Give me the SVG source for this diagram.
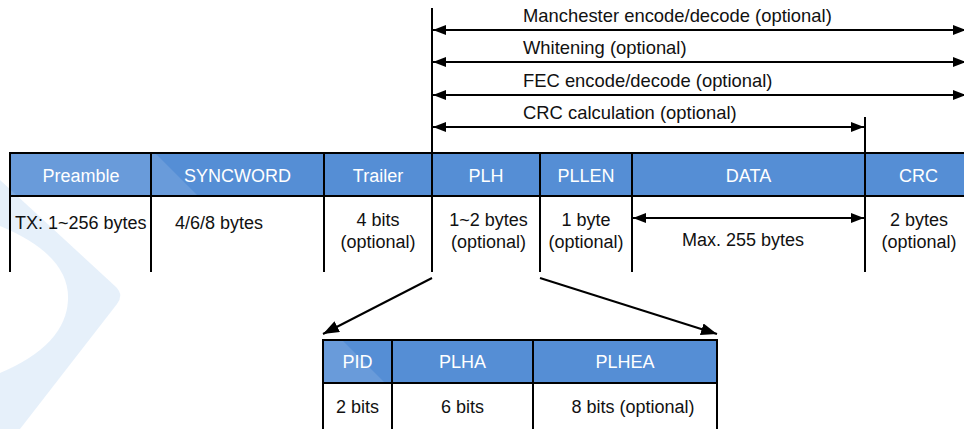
<svg xmlns="http://www.w3.org/2000/svg" width="964" height="429" viewBox="0 0 964 429">
<defs>
<style>
.hdr{fill:#558ed5}
.ln{stroke:#000;stroke-width:2;fill:none}
.ar{stroke:#000;stroke-width:2;fill:none}
.ht{font-family:"Liberation Sans",Arial,sans-serif;font-size:18px;fill:#fff;text-anchor:middle}
.bt{font-family:"Liberation Sans",Arial,sans-serif;font-size:18px;fill:#111;text-anchor:middle}
.lt{font-family:"Liberation Sans",Arial,sans-serif;font-size:18px;fill:#111}
.tl{font-family:"Liberation Sans",Arial,sans-serif;font-size:18.4px;fill:#111}
</style>
<marker id="ah" viewBox="0 0 13 10" refX="13" refY="5" markerWidth="13" markerHeight="10" markerUnits="userSpaceOnUse" orient="auto-start-reverse">
<path d="M0,0 L13,5 L0,10 Z" fill="#000"/>
</marker>
<marker id="ah2" viewBox="0 0 16 12" refX="16" refY="6" markerWidth="16" markerHeight="12" markerUnits="userSpaceOnUse" orient="auto">
<path d="M0,0 L16,6 L0,12 Z" fill="#000"/>
</marker>
</defs>
<rect width="964" height="429" fill="#fff"/>

<g id="frame-header">
<rect class="hdr" x="10" y="153" width="954" height="43"/>
<rect class="hdr" x="323" y="340" width="394" height="43"/>
</g>

<g id="watermark">
<polygon points="0,0 2,0 431,429 0,429" fill="#fff" opacity="0.12"/>
<path d="M0,180 L116,287 Q124,295 117,304 L20,429 L0,429 L0,373 Q66,345 68,300 Q70,255 0,226 Z" fill="#a3c7eb" opacity="0.27"/>
</g>

<g id="table-lines">
<line class="ln" x1="10" y1="153" x2="964" y2="153"/>
<line class="ln" x1="10" y1="196" x2="964" y2="196"/>
<line class="ln" x1="10" y1="152" x2="10" y2="272"/>
<line class="ln" x1="151" y1="152" x2="151" y2="272"/>
<line class="ln" x1="324" y1="152" x2="324" y2="272"/>
<line class="ln" x1="432" y1="8" x2="432" y2="272"/>
<line class="ln" x1="540" y1="152" x2="540" y2="272"/>
<line class="ln" x1="632" y1="152" x2="632" y2="272"/>
<line class="ln" x1="865" y1="117" x2="865" y2="272"/>
<line class="ln" x1="322" y1="340" x2="718" y2="340"/>
<line class="ln" x1="322" y1="383" x2="718" y2="383"/>
<line class="ln" x1="323" y1="339" x2="323" y2="429"/>
<line class="ln" x1="392" y1="339" x2="392" y2="429"/>
<line class="ln" x1="533" y1="339" x2="533" y2="429"/>
<line class="ln" x1="717" y1="339" x2="717" y2="429"/>
</g>

<g id="connectors">
<line class="ar" x1="433" y1="30" x2="966" y2="30" marker-start="url(#ah)" marker-end="url(#ah)"/>
<line class="ar" x1="433" y1="62" x2="966" y2="62" marker-start="url(#ah)" marker-end="url(#ah)"/>
<line class="ar" x1="433" y1="95" x2="966" y2="95" marker-start="url(#ah)" marker-end="url(#ah)"/>
<line class="ar" x1="433" y1="127" x2="864" y2="127" marker-start="url(#ah)" marker-end="url(#ah)"/>
<line class="ar" x1="633" y1="218" x2="864" y2="218" marker-start="url(#ah)" marker-end="url(#ah)"/>
<line class="ar" x1="432" y1="278" x2="323" y2="334" marker-end="url(#ah2)"/>
<line class="ar" x1="540" y1="278" x2="717" y2="334" marker-end="url(#ah2)"/>
</g>

<g id="labels">
<text class="tl" x="523" y="22">Manchester encode/decode (optional)</text>
<text class="tl" x="523" y="54">Whitening (optional)</text>
<text class="tl" x="523" y="87">FEC encode/decode (optional)</text>
<text class="tl" x="523" y="119">CRC calculation (optional)</text>
</g>

<g id="node-preamble">
<text class="ht" x="81" y="181.5">Preamble</text>
<text class="lt" x="15" y="229">TX: 1~256 bytes</text>
</g>
<g id="node-syncword">
<text class="ht" x="237.5" y="181.5">SYNCWORD</text>
<text class="lt" x="175" y="229">4/6/8 bytes</text>
</g>
<g id="node-trailer">
<text class="ht" x="378" y="181.5">Trailer</text>
<text class="bt" x="378" y="226">4 bits</text>
<text class="bt" x="378" y="248">(optional)</text>
</g>
<g id="node-plh">
<text class="ht" x="486" y="181.5">PLH</text>
<text class="bt" x="488.5" y="226">1~2 bytes</text>
<text class="bt" x="488.5" y="248">(optional)</text>
</g>
<g id="node-pllen">
<text class="ht" x="586" y="181.5">PLLEN</text>
<text class="bt" x="586" y="226">1 byte</text>
<text class="bt" x="586" y="248">(optional)</text>
</g>
<g id="node-data">
<text class="ht" x="748.5" y="181.5">DATA</text>
<text class="bt" x="743" y="246">Max. 255 bytes</text>
</g>
<g id="node-crc">
<text class="ht" x="918.5" y="181.5">CRC</text>
<text class="bt" x="919" y="226">2 bytes</text>
<text class="bt" x="919" y="248">(optional)</text>
</g>
<g id="node-pid">
<text class="ht" x="357.5" y="367.5">PID</text>
<text class="bt" x="357.5" y="412.5">2 bits</text>
</g>
<g id="node-plha">
<text class="ht" x="462.5" y="367.5">PLHA</text>
<text class="bt" x="462.5" y="412.5">6 bits</text>
</g>
<g id="node-plhea">
<text class="ht" x="625" y="367.5">PLHEA</text>
<text class="bt" x="633" y="412.5">8 bits (optional)</text>
</g>
</svg>
